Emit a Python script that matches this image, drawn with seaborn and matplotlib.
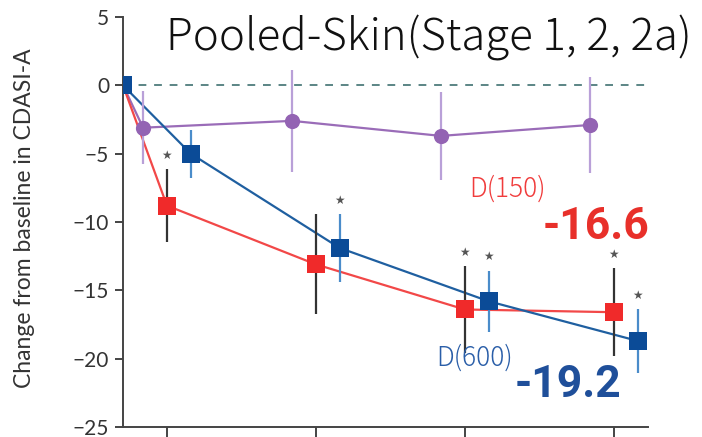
import numpy as np
import pandas as pd
import matplotlib
matplotlib.use("Agg")
import matplotlib.pyplot as plt
import seaborn as sns

# ---- data ----
groups = ["Placebo", "D(150)", "D(600)"]
visit_pos = [0.705, 1, 2, 3, 4]          # baseline + 4 visits (axis units)
placebo_mean = [0.0, -3.1, -2.6, -3.7, -2.9]
placebo_err = [0.0, 2.65, 3.75, 3.2, 3.5]
d150_mean = [0.0, -8.8, -13.1, -16.4, -16.6]
d150_err = [0.0, 2.65, 3.65, 3.2, 3.2]
d600_mean = [0.0, -5.0, -11.9, -15.8, -18.7]
d600_err = [0.0, 1.75, 2.5, 2.25, 2.35]
d150_star = [False, True, False, True, True]
d600_star = [False, False, True, True, True]
placebo_star = [False] * 5
y_ticks = [5, 0, -5, -10, -15, -20, -25]
title = "Pooled-Skin(Stage 1, 2, 2a)"
ylabel = "Change from baseline in CDASI-A"
label_150, value_150 = "D(150)", "-16.6"
label_600, value_600 = "D(600)", "-19.2"

offsets = {"Placebo": -0.16, "D(150)": 0.0, "D(600)": 0.16}
line_colors = {"Placebo": "#9a6cb8", "D(150)": "#f24848", "D(600)": "#1f5fa0"}
marker_colors = {"Placebo": "#9363b3", "D(150)": "#f02a2a", "D(600)": "#0b4b97"}
err_colors = {"Placebo": "#b9a0d8", "D(150)": "#333333", "D(600)": "#4a8cca"}
marker_shapes = {"Placebo": "o", "D(150)": "s", "D(600)": "s"}

rows = []
for g, m, e, s in [("Placebo", placebo_mean, placebo_err, placebo_star),
                   ("D(150)", d150_mean, d150_err, d150_star),
                   ("D(600)", d600_mean, d600_err, d600_star)]:
    for i, (p, mv, ev, sv) in enumerate(zip(visit_pos, m, e, s)):
        x = p + (offsets[g] if i > 0 else 0.0)
        rows.append(dict(group=g, visit=i, x=x, mean=mv, err=ev, star=sv))
df = pd.DataFrame(rows)

sns.set_theme(style="ticks")
plt.rcParams["font.family"] = ["Lato", "DejaVu Sans"]

fig = plt.figure(figsize=(7.02, 4.37), dpi=100)
ax = fig.add_axes([123 / 702, 1 - 427 / 437, (648 - 123) / 702, (427 - 17) / 437])

# zero reference line
ax.axhline(0, color="#5b8585", lw=1.4, ls=(0, (4, 4)), zorder=1)

# lines
sns.lineplot(data=df, x="x", y="mean", hue="group", hue_order=groups,
             palette=line_colors, lw=1.6, legend=False, sort=False,
             estimator=None, ax=ax, zorder=2)

# error bars
for g in groups:
    sub = df[(df.group == g) & (df.visit > 0)]
    ax.errorbar(sub.x, sub["mean"], yerr=sub.err, fmt="none",
                ecolor=err_colors[g], elinewidth=1.6, capsize=0, zorder=3)

# markers
for g in groups:
    sub = df[df.group == g]
    sns.scatterplot(data=sub, x="x", y="mean", color=marker_colors[g],
                    marker=marker_shapes[g], s=150 if g != "Placebo" else 120,
                    linewidth=0, legend=False, ax=ax, zorder=4)

# significance stars
for _, r in df[df.star].iterrows():
    ax.text(r.x, r["mean"] + r.err + 1.0, "★", ha="center", va="center",
            fontsize=8.5, color="#555555", family="DejaVu Sans", zorder=5)

ax.set_xlim(0.705, 4.23)
ax.set_ylim(-25, 5)
ax.set_yticks(y_ticks)
ax.set_yticklabels([f"{v}".replace("-", "\u2212") for v in y_ticks])
ax.set_xticks([1, 2, 3, 4])
ax.set_xticklabels([])
ax.set_xlabel("")
ax.set_ylabel(ylabel, fontsize=16.5, color="#333333")
ax.yaxis.set_label_coords(-0.168, 0.51)
for sp in ["top", "right"]:
    ax.spines[sp].set_visible(False)
for sp in ["left", "bottom"]:
    ax.spines[sp].set_color("#444444")
    ax.spines[sp].set_linewidth(1.4)
ax.tick_params(axis="y", length=6, width=1.4, color="#444444",
               labelsize=15, labelcolor="#333333", pad=4)
ax.tick_params(axis="x", length=10, width=1.4, color="#444444")

# annotations
cjk = ["Noto Sans CJK JP", "DejaVu Sans"]
ax.text(3.03, -7.6, label_150, color="#f03c3c", fontsize=19, ha="left",
        va="center", family=cjk, fontweight="light")
ax.text(4.24, -10.4, value_150, color="#e8302a", fontsize=32, ha="right",
        va="center", family=["Roboto"], fontweight="bold", clip_on=False)
ax.text(2.81, -19.9, label_600, color="#2a5ea8", fontsize=19, ha="left",
        va="center", family=cjk, fontweight="light")
ax.text(4.05, -21.9, value_600, color="#1f4f9a", fontsize=32, ha="right",
        va="center", family=["Roboto"], fontweight="bold", clip_on=False)

fig.text(429 / 702, 1 - 38 / 437, title, fontsize=31.5, ha="center",
         va="center", color="#111111", family=cjk, fontweight="light")

fig.savefig("out.png", dpi=100)
